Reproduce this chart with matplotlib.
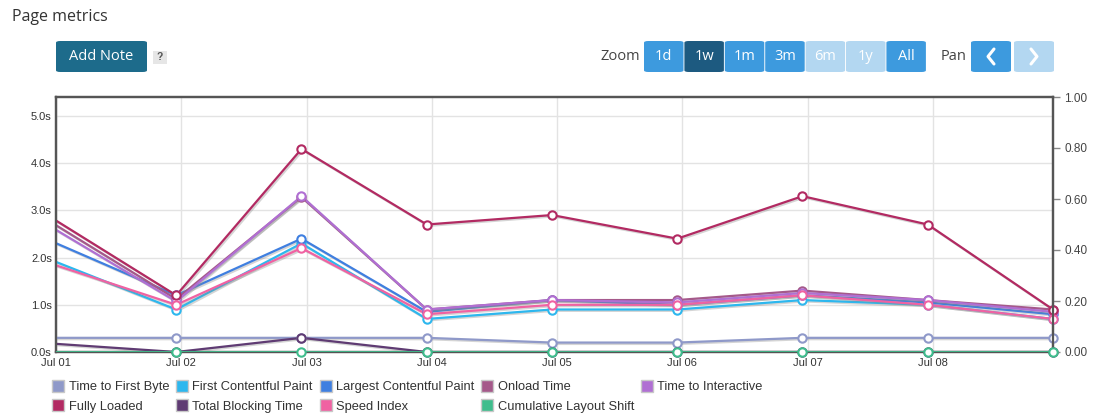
import numpy as np
import matplotlib
matplotlib.use('Agg')
import matplotlib.pyplot as plt
import matplotlib.patheffects as pe
from matplotlib.patches import FancyBboxPatch, Rectangle
from matplotlib.lines import Line2D

plt.rcParams['font.family'] = ['Liberation Sans', 'DejaVu Sans']

# data (seconds, one point per day, last one is Jul 09)
days = ['Jul 01', 'Jul 02', 'Jul 03', 'Jul 04', 'Jul 05', 'Jul 06', 'Jul 07', 'Jul 08']
ttfb = [0.3, 0.3, 0.3, 0.3, 0.2, 0.2, 0.3, 0.3, 0.3]
fcp = [1.95, 0.9, 2.3, 0.7, 0.9, 0.9, 1.1, 1.0, 0.7]
lcp = [2.35, 1.2, 2.4, 0.85, 1.1, 1.0, 1.2, 1.05, 0.8]
onload = [2.75, 1.12, 3.28, 0.9, 1.1, 1.1, 1.3, 1.1, 0.9]
tti = [2.65, 1.07, 3.3, 0.9, 1.1, 1.05, 1.25, 1.1, 0.85]
fully = [2.85, 1.2, 4.3, 2.7, 2.9, 2.4, 3.3, 2.7, 0.9]
tbt = [0.18, 0.0, 0.3, 0.0, 0.0, 0.0, 0.0, 0.0, 0.0]
speed = [1.87, 1.0, 2.2, 0.8, 1.0, 1.0, 1.2, 1.0, 0.7]
cls = [0, 0, 0, 0, 0, 0, 0, 0, 0]

series = [
    ('Time to First Byte', ttfb, '#8f99c9'),
    ('First Contentful Paint', fcp, '#2db7ee'),
    ('Largest Contentful Paint', lcp, '#3f7fe0'),
    ('Onload Time', onload, '#a5598a'),
    ('Time to Interactive', tti, '#b06fd3'),
    ('Fully Loaded', fully, '#b22a62'),
    ('Total Blocking Time', tbt, '#5f3b73'),
    ('Speed Index', speed, '#f062a2'),
]
cls_color = '#3fbd8d'

W, H = 1093, 420
fig = plt.figure(figsize=(W / 100, H / 100), dpi=100)

def fx(x):
    return x / W

def fy(y):
    return 1 - y / H

ax = fig.add_axes([fx(56), fy(352), fx(1053) - fx(56), fy(97) - fy(352)])
ax2 = ax.twinx()

x = np.arange(9) - 0.04
shadow = [pe.SimpleLineShadow(offset=(1, -1), shadow_color='#888888', alpha=0.35), pe.Normal()]

for name, vals, col in series:
    ax.plot(x, vals, color=col, lw=1.6, path_effects=shadow, zorder=3)
    ax.plot(x[1:], vals[1:], ls='none', marker='o', ms=6, mfc='white', mec=col,
            mew=1.5, clip_on=False, zorder=4)

ax2.plot(x, cls, color=cls_color, lw=2, path_effects=shadow, zorder=3)
ax2.plot(x[1:], cls[1:], ls='none', marker='o', ms=6, mfc='white', mec=cls_color,
         mew=1.5, clip_on=False, zorder=4)

ax.set_xlim(0, 7.96)
ax.set_ylim(0, 5.4)
ax2.set_ylim(0, 1.0)

ax.set_xticks(range(8))
ax.set_xticklabels(days)
ax.set_yticks([0, 1, 2, 3, 4, 5])
ax.set_yticklabels(['0.0s', '1.0s', '2.0s', '3.0s', '4.0s', '5.0s'])
ax2.set_yticks([0, 0.2, 0.4, 0.6, 0.8, 1.0])
ax2.set_yticklabels(['0.00', '0.20', '0.40', '0.60', '0.80', '1.00'])

ax.grid(True, color='#e3e3e3', lw=1)
ax.set_axisbelow(True)
ax.tick_params(axis='both', length=0, labelsize=8, labelcolor='#333333')
ax.tick_params(axis='x', pad=4)
ax.tick_params(axis='y', pad=3)
ax2.tick_params(axis='y', length=5, width=1, color='#888888', labelsize=8.5,
                labelcolor='#444444', pad=3)
for a in (ax, ax2):
    for s in a.spines.values():
        s.set_color('#555555')
        s.set_linewidth(1.6)

# legend
handles = []
for name, vals, col in series:
    handles.append(Line2D([], [], ls='none', marker='s', ms=8, mfc=col, mec='#c8c8c8',
                          mew=1, label=name))
handles.append(Line2D([], [], ls='none', marker='s', ms=8, mfc=cls_color, mec='#c8c8c8',
                      mew=1, label='Cumulative Layout Shift'))
order = [0, 5, 1, 6, 2, 7, 3, 8, 4]
leg = fig.legend([handles[i] for i in order], [handles[i].get_label() for i in order],
                 ncol=5, loc='upper left', bbox_to_anchor=(fx(48), fy(376)),
                 frameon=False, fontsize=9.3, handlelength=0.8, handletextpad=0.4,
                 columnspacing=0.6, labelspacing=0.6, borderaxespad=0)
for t in leg.get_texts():
    t.set_color('#333333')

# header: title and buttons
fig.text(fx(12), fy(17), 'Page metrics', fontsize=11.5, color='#333333',
         va='center', ha='left', family=['Open Sans', 'DejaVu Sans'])

def button(x0, y0, x1, y1, color, label, tcolor='white', size=10.5, pad=3):
    p = FancyBboxPatch((fx(x0), fy(y1)), fx(x1) - fx(x0), fy(y0) - fy(y1),
                       boxstyle='round,pad=0,rounding_size=0.004',
                       transform=fig.transFigure, fc=color, ec='none')
    fig.add_artist(p)
    fig.text(fx((x0 + x1) / 2), fy((y0 + y1) / 2), label, color=tcolor, fontsize=size,
             ha='center', va='center', family=['Open Sans', 'DejaVu Sans'])

button(56, 41, 147, 72, '#1d6b8b', 'Add Note', size=10.5)
fig.add_artist(Rectangle((fx(153), fy(64)), fx(14), fy(51) - fy(64),
                         transform=fig.transFigure, fc='#e6e6e6', ec='none'))
fig.text(fx(160), fy(57.5), '?', fontsize=7.5, color='#555555', ha='center', va='center',
         weight='bold')

fig.text(fx(640), fy(57), 'Zoom', fontsize=10.5, color='#444444', ha='right', va='center',
         family=['Open Sans', 'DejaVu Sans'])
zoom_labels = ['1d', '1w', '1m', '3m', '6m', '1y', 'All']
zoom_colors = ['#3d9ade', '#1d5a80', '#3d9ade', '#3d9ade', '#b3d7f1', '#b3d7f1', '#3d9ade']
bx = 644
for lab, col in zip(zoom_labels, zoom_colors):
    button(bx, 41, bx + 39.5, 72, col, lab, size=10.5)
    bx += 40.4

fig.text(fx(967), fy(57), 'Pan', fontsize=10.5, color='#444444', ha='right', va='center',
         family=['Open Sans', 'DejaVu Sans'])
button(971, 41, 1011, 72, '#3d9ade', '', size=11)
button(1014, 41, 1054, 72, '#b3d7f1', '', size=11)
for cx, sgn in ((991, 1), (1034, -1)):
    fig.add_artist(Line2D([fx(cx + 3 * sgn), fx(cx - 3 * sgn), fx(cx + 3 * sgn)],
                          [fy(49), fy(56.5), fy(64)], transform=fig.transFigure,
                          color='white', lw=2.2, solid_capstyle='round'))

fig.savefig('out.png', dpi=100)
